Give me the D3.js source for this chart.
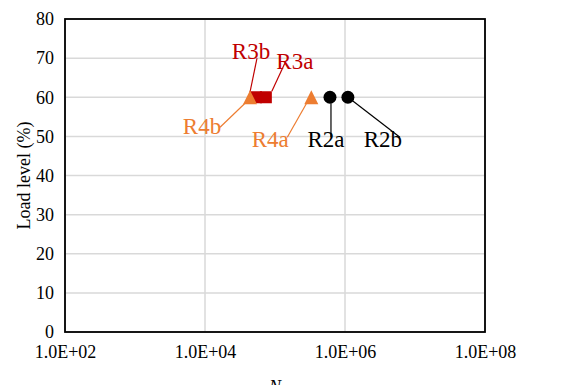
<!DOCTYPE html>
<html>
<head>
<meta charset="utf-8">
<script src="https://cdn.jsdelivr.net/npm/d3@7"></script>
<style>
  body { margin: 0; background: white; }
</style>
</head>
<body>
<div id="chart"></div>
<script>
// Data
const specimens = ["R2a", "R2b", "R3a", "R3b", "R4a", "R4b"];
const cycles = [6.1e5, 1.1e6, 7.4e4, 5.35e4, 3.3e5, 4.4e4];
const loadLevel = [60, 60, 60, 60, 60, 60];
const groups = ["R2", "R2", "R3", "R3", "R4", "R4"];
const xTicks = [1e2, 1e4, 1e6, 1e8];
const yTicks = [0, 10, 20, 30, 40, 50, 60, 70, 80];

// Label placement (pixel offsets from the marker)
const labelOffsets = {
  R2a: {lx0: 1, ly0: 6, lx1: 1, ly1: 40, tx: -4, ty: 50},
  R2b: {lx0: 4, ly0: 3, lx1: 52, ly1: 40, tx: 35, ty: 50},
  R3a: {lx0: 6, ly0: -6, lx1: 19, ly1: -34, tx: 29, ty: -28},
  R3b: {lx0: -6, ly0: -5, lx1: 1, ly1: -39, tx: -5, ty: -38},
  R4a: {lx0: -3, ly0: 3, lx1: -24, ly1: 40, tx: -41, ty: 50},
  R4b: {lx0: -5, ly0: 6, lx1: -30, ly1: 30, tx: -48, ty: 37}
};

const colors = {R2: "#000000", R3: "#c00000", R4: "#ed7d31"};
const FONT = '"Liberation Serif"';

const W = 570, H = 385;
const margin = {top: 19, right: 85, bottom: 53, left: 65};
const width = W - margin.left - margin.right;
const height = H - margin.top - margin.bottom;

const svg = d3.select("#chart").append("svg")
    .attr("width", W)
    .attr("height", H);

const g = svg.append("g")
    .attr("transform", `translate(${margin.left},${margin.top})`);

const x = d3.scaleLog().domain([1e2, 1e8]).range([0, width]);
const y = d3.scaleLinear().domain([0, 80]).range([height, 0]);

// gridlines
g.append("g")
    .selectAll("line")
    .data(yTicks)
    .join("line")
    .attr("x1", 0).attr("x2", width)
    .attr("y1", d => y(d)).attr("y2", d => y(d))
    .attr("stroke", "#d9d9d9").attr("stroke-width", 1.5);

g.append("g")
    .selectAll("line")
    .data(xTicks)
    .join("line")
    .attr("x1", d => x(d)).attr("x2", d => x(d))
    .attr("y1", 0).attr("y2", height)
    .attr("stroke", "#d9d9d9").attr("stroke-width", 1.5);

// axes (labels only)
const fmt = d => "1.0E+" + String(Math.round(Math.log10(d))).padStart(2, "0");
const xAxis = g.append("g")
    .attr("transform", `translate(0,${height})`)
    .call(d3.axisBottom(x).tickValues(xTicks).tickFormat(fmt).tickSize(0).tickPadding(13))
    .attr("font-family", null).attr("font-size", null);
xAxis.select(".domain").remove();
xAxis.selectAll("text").attr("fill", "#000")
    .style("font-family", FONT).style("font-size", "18px");

const yAxis = g.append("g")
    .call(d3.axisLeft(y).tickValues(yTicks).tickSize(0).tickPadding(11))
    .attr("font-family", null).attr("font-size", null);
yAxis.select(".domain").remove();
yAxis.selectAll("text").attr("fill", "#000")
    .style("font-family", FONT).style("font-size", "18px");

// plot border
g.append("rect")
    .attr("x", 0).attr("y", 0)
    .attr("width", width).attr("height", height)
    .attr("fill", "none").attr("stroke", "#000").attr("stroke-width", 1.8);

// axis titles
svg.append("text")
    .attr("transform", `translate(30,${margin.top + height / 2}) rotate(-90)`)
    .attr("text-anchor", "middle")
    .style("font-family", FONT).style("font-size", "18px")
    .text("Load level (%)");

svg.append("text")
    .attr("x", margin.left + width / 2)
    .attr("y", 393)
    .attr("text-anchor", "middle")
    .style("font-family", FONT).style("font-size", "18px")
    .style("font-style", "italic")
    .text("N");

const data = specimens.map((s, i) => ({name: s, n: cycles[i], load: loadLevel[i], grp: groups[i]}));

// leader lines
g.append("g")
    .selectAll("line")
    .data(data)
    .join("line")
    .attr("x1", d => x(d.n) + labelOffsets[d.name].lx0)
    .attr("y1", d => y(d.load) + labelOffsets[d.name].ly0)
    .attr("x2", d => x(d.n) + labelOffsets[d.name].lx1)
    .attr("y2", d => y(d.load) + labelOffsets[d.name].ly1)
    .attr("stroke", d => colors[d.grp])
    .attr("stroke-width", 1.2);

// markers: squares first, then triangles and circles
const sq = 12;
g.append("g")
    .selectAll("rect")
    .data(data.filter(d => d.grp === "R3"))
    .join("rect")
    .attr("x", d => x(d.n) - sq / 2)
    .attr("y", d => y(d.load) - sq / 2)
    .attr("width", sq).attr("height", sq)
    .attr("fill", colors.R3);

g.append("g")
    .selectAll("path")
    .data(data.filter(d => d.grp === "R4"))
    .join("path")
    .attr("d", d => {
      const cx = x(d.n), cy = y(d.load);
      return `M${cx},${cy - 7}L${cx + 7},${cy + 7}L${cx - 7},${cy + 7}Z`;
    })
    .attr("fill", colors.R4);

g.append("g")
    .selectAll("circle")
    .data(data.filter(d => d.grp === "R2"))
    .join("circle")
    .attr("cx", d => x(d.n))
    .attr("cy", d => y(d.load))
    .attr("r", 6.5)
    .attr("fill", colors.R2);

// labels
g.append("g")
    .selectAll("text")
    .data(data)
    .join("text")
    .attr("x", d => x(d.n) + labelOffsets[d.name].tx)
    .attr("y", d => y(d.load) + labelOffsets[d.name].ty)
    .attr("text-anchor", "middle")
    .style("font-family", FONT).style("font-size", "23px")
    .attr("fill", d => colors[d.grp])
    .text(d => d.name);
</script>
</body>
</html>
